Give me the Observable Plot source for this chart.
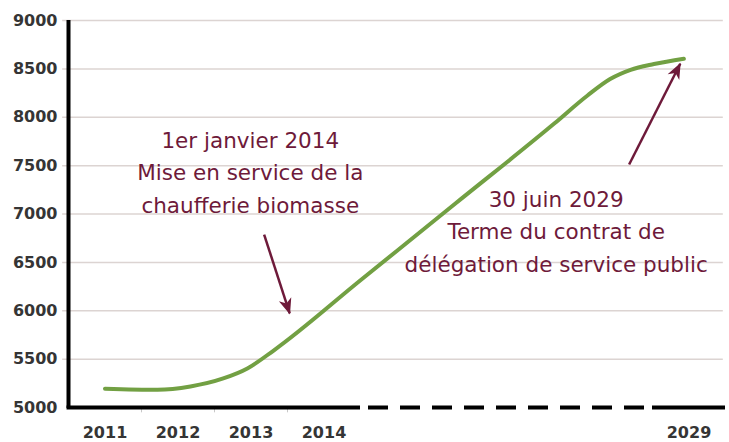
<!DOCTYPE html>
<html>
<head>
<meta charset="utf-8">
<script src="https://cdn.jsdelivr.net/npm/d3@7"></script>
<script src="https://cdn.jsdelivr.net/npm/@observablehq/plot@0.6"></script>
<style>
  html, body { margin: 0; padding: 0; background: #ffffff; }
  #chart { width: 729px; height: 442px; }
</style>
</head>
<body>
<div id="chart"></div>
<script>
// Axis categories (broken time axis: positions along the axis)
const yearLabels = ["2011", "2012", "2013", "2014", "2029"];
const yearPos = [0, 1, 2, 3, 8];
const yTicks = [5000, 5500, 6000, 6500, 7000, 7500, 8000, 8500, 9000];

// Green curve (axis position, value)
const curvePos = [0, 0.72, 1.17, 1.62, 1.95, 2.31, 3.5, 4.8, 6.15, 6.61, 6.92, 7.2, 7.52, 7.93];
const curveVal = [5195, 5183, 5217, 5300, 5403, 5589, 6315, 7108, 7932, 8225, 8395, 8490, 8550, 8605];

// Annotations
const noteText = [
  "1er janvier 2014\nMise en service de la\nchaufferie biomasse",
  "30 juin 2029\nTerme du contrat de\ndélégation de service public"
];
const noteX = [1.99, 6.18];
const noteY = [7454, 6845];
const arrowX1 = [2.18, 7.18];
const arrowY1 = [6788, 7512];
const arrowX2 = [2.53, 7.88];
const arrowY2 = [5972, 8553];

const curve = curvePos.map((p, i) => ({x: p, y: curveVal[i]}));
const notes = noteText.map((t, i) => ({x: noteX[i], y: noteY[i], text: t}));
const arrows = arrowX1.map((_, i) => ({x1: arrowX1[i], y1: arrowY1[i], x2: arrowX2[i], y2: arrowY2[i]}));

const maroon = "#6e1a3a";
const green = "#72a043";

const chart = Plot.plot({
  width: 729,
  height: 442,
  marginLeft: 68,
  marginRight: 4,
  marginTop: 20,
  marginBottom: 35,
  style: {fontFamily: "DejaVu Sans", fontSize: "16px", fontWeight: "bold", color: "#353535", background: "#fff"},
  x: {domain: [-0.5, 8.5], axis: null},
  y: {domain: [5000, 9000], axis: null},
  marks: [
    // gridlines (with small ticks left of the axis)
    Plot.ruleY(yTicks.filter(d => d > 5000), {x1: -0.58, x2: 8.47, stroke: "#dcd4d2", strokeWidth: 1.5}),
    // y tick labels
    Plot.axisY(yTicks, {tickSize: 0, tickPadding: 11, tickFormat: d => String(d), fill: "#353535"}),
    // x tick labels
    Plot.axisX(yearPos, {tickSize: 0, tickPadding: 19, tickFormat: d => yearLabels[yearPos.indexOf(d)], fill: "#353535"}),
    // small boundary ticks under the x axis
    Plot.ruleX([0.5, 1.5, 2.5], {y1: 5000, y2: 4945, stroke: "#c8c8c8", strokeWidth: 1}),
    // green curve
    Plot.line(curve, {x: "x", y: "y", stroke: green, strokeWidth: 4, curve: "monotone-x"}),
    // axes lines
    Plot.ruleX([-0.5], {y1: 4990, y2: 9000, stroke: "#000", strokeWidth: 4}),
    Plot.ruleY([5000], {x1: -0.52, x2: 3.5, stroke: "#000", strokeWidth: 4}),
    Plot.ruleY([5000], {x1: 3.5, x2: 7.5, stroke: "#000", strokeWidth: 4, strokeDasharray: "20,12", strokeDashoffset: 24}),
    Plot.ruleY([5000], {x1: 7.5, x2: 8.5, stroke: "#000", strokeWidth: 4}),
    // annotation arrows
    Plot.link(arrows, {x1: "x1", y1: "y1", x2: "x2", y2: "y2", stroke: maroon, strokeWidth: 2.5}),
    // annotation text
    Plot.text(notes, {x: "x", y: "y", text: "text", fill: maroon, fontFamily: "DejaVu Sans", fontSize: 21.5, fontWeight: "normal", lineHeight: 1.5, textAnchor: "middle", lineAnchor: "middle"})
  ]
});

// filled barbed arrowheads on the annotation links
const svgSel = d3.select(chart);
const defs = svgSel.insert("defs", ":first-child");
defs.append("marker")
  .attr("id", "ahead")
  .attr("viewBox", "-18 -9 20 18")
  .attr("markerWidth", 20)
  .attr("markerHeight", 18)
  .attr("markerUnits", "userSpaceOnUse")
  .attr("refX", 0)
  .attr("refY", 0)
  .attr("orient", "auto")
  .append("path")
  .attr("d", "M1,0 L-15,-6.5 L-10.5,0 L-15,6.5 Z")
  .attr("fill", maroon);
svgSel.selectAll("g[aria-label='link'] path").attr("marker-end", "url(#ahead)");

document.getElementById("chart").appendChild(chart);
</script>
</body>
</html>
